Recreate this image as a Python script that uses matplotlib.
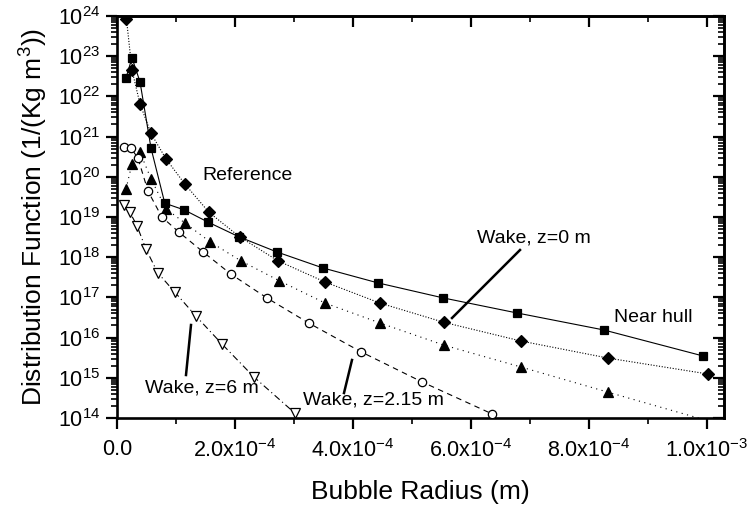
import numpy as np
import matplotlib
matplotlib.use("Agg")
import matplotlib.pyplot as plt
from matplotlib.ticker import FuncFormatter, LogLocator, MultipleLocator, NullFormatter

plt.rcParams['font.family'] = ['Liberation Sans', 'DejaVu Sans']
plt.rcParams['mathtext.fontset'] = 'custom'
plt.rcParams['mathtext.rm'] = 'Liberation Sans'
plt.rcParams['mathtext.it'] = 'Liberation Sans'

# ---- data (bubble radius in m, distribution function in 1/(Kg m^3)) ----
near_hull_r = [1.53e-5, 2.54e-5, 3.9e-5, 5.76e-5, 8.1e-5, 1.14e-4, 1.54e-4, 2.07e-4,
               2.71e-4, 3.49e-4, 4.42e-4, 5.53e-4, 6.78e-4, 8.25e-4, 9.93e-4]
near_hull_f = [2.9e22, 9.1e22, 2.3e22, 5.2e20, 2.2e19, 1.5e19, 7.5e18, 3.2e18,
               1.35e18, 5.4e17, 2.3e17, 9.7e16, 4.1e16, 1.55e16, 3.5e15]

reference_r = [1.6e-5, 2.54e-5, 3.9e-5, 5.76e-5, 8.3e-5, 1.15e-4, 1.56e-4, 2.08e-4,
               2.73e-4, 3.53e-4, 4.46e-4, 5.54e-4, 6.85e-4, 8.32e-4, 1.002e-3]
reference_f = [8.5e23, 4.5e22, 6.5e21, 1.2e21, 2.8e20, 6.6e19, 1.3e19, 3.2e18,
               8.1e17, 2.4e17, 7.2e16, 2.4e16, 8.2e15, 3.1e15, 1.24e15]

wake0_r = [1.53e-5, 2.54e-5, 3.9e-5, 5.76e-5, 8.3e-5, 1.15e-4, 1.58e-4, 2.1e-4,
           2.75e-4, 3.53e-4, 4.46e-4, 5.54e-4, 6.85e-4, 8.32e-4, 1.002e-3]
wake0_f = [5.0e19, 2.1e20, 4.1e20, 8.9e19, 1.6e19, 7.1e18, 2.4e18, 8.1e17,
           2.6e17, 7.2e16, 2.3e16, 6.5e15, 1.85e15, 4.4e14, 8.5e13]

wake215_r = [1.2e-5, 2.37e-5, 3.56e-5, 5.25e-5, 7.6e-5, 1.05e-4, 1.46e-4, 1.93e-4,
             2.54e-4, 3.25e-4, 4.14e-4, 5.17e-4, 6.36e-4]
wake215_f = [5.5e20, 5.2e20, 2.9e20, 4.4e19, 1.0e19, 4.2e18, 1.35e18, 3.8e17,
             9.7e16, 2.3e16, 4.4e15, 7.9e14, 1.26e14]

wake6_r = [1.2e-5, 2.2e-5, 3.4e-5, 4.9e-5, 6.9e-5, 9.8e-5, 1.34e-4, 1.78e-4,
           2.32e-4, 3.02e-4]
wake6_f = [2.0e19, 1.3e19, 6.0e18, 1.6e18, 4.1e17, 1.35e17, 3.4e16, 6.9e15,
           1.05e15, 1.3e14]

xticks = [0.0, 2.0e-4, 4.0e-4, 6.0e-4, 8.0e-4, 1.0e-3]
xtick_labels = ["0.0", r"$\mathregular{2.0x10^{-4}}$", r"$\mathregular{4.0x10^{-4}}$",
                r"$\mathregular{6.0x10^{-4}}$", r"$\mathregular{8.0x10^{-4}}$",
                r"$\mathregular{1.0x10^{-3}}$"]
ymin, ymax = 1e14, 1e24

fig = plt.figure(figsize=(7.52, 5.08), dpi=100)
ax = fig.add_axes([117/752, 1-418/508, (724-117)/752, (418-16)/508])

lw = 0.8
ax.set_yscale('log')

def plot_series(r, f, marker, ms, fill, ls):
    r = np.asarray(r); f = np.asarray(f)
    ax.plot(r, f, color='black', lw=lw, linestyle=ls, zorder=2)
    m = f >= ymin
    ax.plot(r[m], f[m], linestyle='none', marker=marker, ms=ms,
            mfc='black' if fill else 'white', mec='black', mew=0.9, zorder=3)

plot_series(near_hull_r, near_hull_f, 's', 6.3, True, '-')
plot_series(reference_r, reference_f, 'D', 6.3, True, (0, (1, 1.5)))
plot_series(wake0_r, wake0_f, '^', 7.3, True, (0, (1, 4)))
plot_series(wake215_r, wake215_f, 'o', 6.0, False, (0, (5, 4)))
plot_series(wake6_r, wake6_f, 'v', 7.3, False, (0, (6, 3, 1, 3)))

ax.set_xlim(0, 607/590*1e-3)
ax.set_ylim(ymin, ymax)

ax.set_xticks(xticks)
ax.set_xticklabels(xtick_labels)
ax.xaxis.set_minor_locator(MultipleLocator(1e-4))
ax.yaxis.set_major_locator(LogLocator(base=10, numticks=20))
ax.yaxis.set_minor_locator(LogLocator(base=10, subs=np.arange(2, 10), numticks=20))
ax.yaxis.set_minor_formatter(NullFormatter())
ax.yaxis.set_major_formatter(FuncFormatter(lambda v, p: r"$\mathregular{10^{%d}}$" % int(round(np.log10(v)))))

for s in ax.spines.values():
    s.set_linewidth(1.9)

ax.tick_params(which='major', direction='out', length=8, width=1.6, labelsize=15.5, pad=4)
ax.tick_params(axis='x', which='major', pad=7)
ax.tick_params(which='minor', direction='out', length=4.5, width=1.2)

# mirrored ticks pointing inward on top and right
secx = ax.secondary_xaxis('top')
secx.set_xticks(xticks)
secx.xaxis.set_minor_locator(MultipleLocator(1e-4))
secx.tick_params(which='major', direction='in', length=8, width=1.6, labeltop=False)
secx.tick_params(which='minor', direction='in', length=4.5, width=1.2)
secx.spines['top'].set_linewidth(1.9)
secy = ax.secondary_yaxis('right')
secy.yaxis.set_major_locator(LogLocator(base=10, numticks=20))
secy.yaxis.set_minor_locator(LogLocator(base=10, subs=np.arange(2, 10), numticks=20))
secy.yaxis.set_minor_formatter(NullFormatter())
secy.tick_params(which='major', direction='in', length=8, width=1.6, labelright=False)
secy.tick_params(which='minor', direction='in', length=4.5, width=1.2)
secy.spines['right'].set_linewidth(1.9)

ax.set_xlabel("Bubble Radius (m)", fontsize=19, labelpad=13)
ax.set_ylabel(r"Distribution Function (1/(Kg m$\mathregular{^3}$))", fontsize=19, labelpad=6)

# annotations
def px2data(px, py):
    xd, yd = ax.transData.inverted().transform(fig.transFigure.transform((px/752, 1-py/508)))
    return xd, yd

fs = 14
ax.text(*px2data(202, 176), "Reference", fontsize=fs, ha='left', va='center')
ax.text(*px2data(614, 317), "Near hull", fontsize=fs, ha='left', va='center')
ax.text(*px2data(477, 238), "Wake, z=0 m", fontsize=fs, ha='left', va='center')
ax.text(*px2data(303, 400), "Wake, z=2.15 m", fontsize=fs, ha='left', va='center')
ax.text(*px2data(145, 388), "Wake, z=6 m", fontsize=fs, ha='left', va='center')

for (a, b), (c, d) in [((520, 250), (452, 318)), ((352, 360), (344, 393)), ((191, 325), (186, 375))]:
    x1, y1 = px2data(a, b); x2, y2 = px2data(c, d)
    ax.plot([x1, x2], [y1, y2], color='black', lw=1.8, zorder=4)

fig.savefig("out.png", dpi=100)
